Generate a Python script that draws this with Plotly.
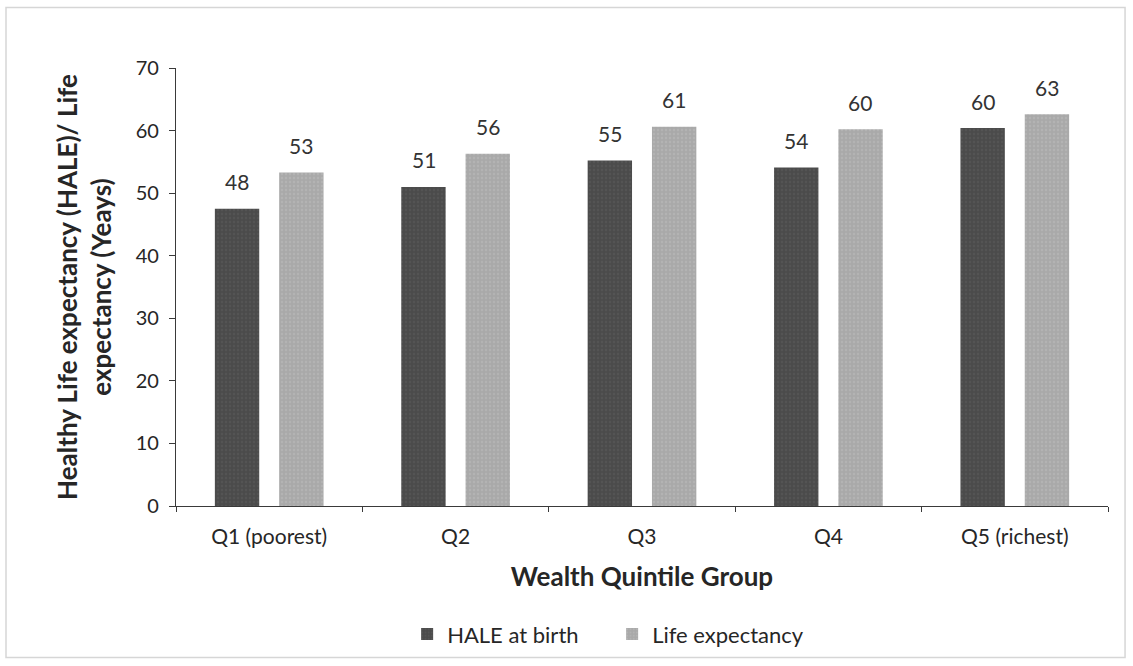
import plotly.graph_objects as go

categories = ["Q1 (poorest)", "Q2", "Q3", "Q4", "Q5 (richest)"]
hale = [47.5, 51.0, 55.2, 54.1, 60.4]
life_exp = [53.3, 56.3, 60.6, 60.2, 62.6]
series_names = ["HALE at birth", "Life expectancy"]
y_ticks = [0, 10, 20, 30, 40, 50, 60, 70]

FONT = "Lato"
TXT = "#262626"

fig = go.Figure()
fig.add_trace(go.Bar(
    x=categories, y=hale, name=series_names[0],
    marker=dict(color="#4b4b4b", line=dict(width=0),
                pattern=dict(shape=".", fillmode="overlay", fgcolor="#5c5c5c", size=4, solidity=0.3)),
))
fig.add_trace(go.Bar(
    x=categories, y=life_exp, name=series_names[1],
    marker=dict(color="#a9a9a9", line=dict(width=0),
                pattern=dict(shape=".", fillmode="overlay", fgcolor="#bcbcbc", size=4, solidity=0.3)),
))

# data labels above bars
for vals, shift in ((hale, -32), (life_exp, 32)):
    for c, v in zip(categories, vals):
        fig.add_annotation(x=c, y=v, text=f"{v:.0f}", showarrow=False,
                           xshift=shift, yshift=27, yanchor="middle",
                           font=dict(family=FONT, size=21, color="#333333"))

# outer frame
fig.add_shape(type="rect", xref="paper", yref="paper",
              x0=-0.1824, x1=1.0183, y0=-0.346, y1=1.138,
              line=dict(color="#d6d6d6", width=1.5), layer="below")

fig.update_layout(
    width=1133, height=666,
    margin=dict(l=176, r=25, t=68, b=159),
    paper_bgcolor="white", plot_bgcolor="white",
    barmode="group", bargap=0.31, bargroupgap=0.31,
    font=dict(family=FONT, size=20, color=TXT),
    showlegend=True,
    legend=dict(orientation="h", x=0.248, xanchor="left", y=-0.29, yanchor="middle",
                font=dict(family=FONT, size=22, color=TXT), entrywidth=160,
                traceorder="normal"),
    xaxis=dict(
        showline=True, linecolor="#3a3a3a", linewidth=1.2,
        ticks="outside", ticklen=5, tickcolor="#3a3a3a", tickson="boundaries",
        ticklabelstandoff=12,
        tickfont=dict(family=FONT, size=21, color=TXT),
        title=dict(text="<b>Wealth Quintile Group</b>", standoff=20,
                   font=dict(family=FONT, size=26, color=TXT)),
    ),
    yaxis=dict(
        range=[0, 70], tickvals=y_ticks, showgrid=False, zeroline=False,
        showline=True, linecolor="#3a3a3a", linewidth=1.2,
        ticks="outside", ticklen=6, tickcolor="#3a3a3a",
        ticklabelstandoff=6,
        tickfont=dict(family=FONT, size=20, color=TXT),
        title=dict(text="<b>Healthy Life expectancy (HALE)/ Life<br>expectancy (Yeays)</b>",
                   standoff=16, font=dict(family=FONT, size=26, color=TXT)),
    ),
)

fig.write_html("out.html", config={"displayModeBar": False},
               post_script="document.body.style.margin='0';document.body.style.overflow='hidden';")
